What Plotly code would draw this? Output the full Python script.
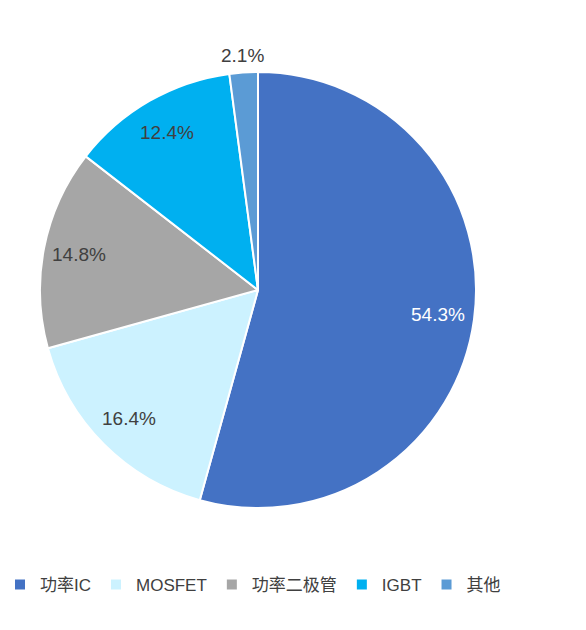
import math
import plotly.graph_objects as go

categories = ["功率IC", "MOSFET", "功率二极管", "IGBT", "其他"]
values = [54.3, 16.4, 14.8, 12.4, 2.1]
colors = ["#4472C4", "#CCF2FF", "#A6A6A6", "#00B0F0", "#5B9BD5"]
text_colors = ["#FFFFFF", "#404040", "#404040", "#404040", "#404040"]
label_radius = [0.835, 0.835, 0.835, 0.835, 1.078]

W, H = 586, 630
CX, CY, R = 258, 290, 218

fig = go.Figure(go.Pie(
    labels=categories,
    values=values,
    sort=False,
    direction="clockwise",
    rotation=0,
    marker=dict(colors=colors, line=dict(color="white", width=2)),
    textinfo="none",
    hoverinfo="label+percent",
    domain=dict(x=[(CX - R) / W, (CX + R) / W], y=[1 - (CY + R) / H, 1 - (CY - R) / H]),
))

total = sum(values)
cum = 0.0
for v, tc, lr in zip(values, text_colors, label_radius):
    theta = math.radians(360 * (cum + v / 2) / total)
    cum += v
    px = CX + lr * R * math.sin(theta)
    py = CY - lr * R * math.cos(theta)
    fig.add_annotation(
        x=px / W, y=1 - py / H, xref="paper", yref="paper",
        xanchor="center", yanchor="middle",
        text=f"{v:.1f}%", showarrow=False,
        font=dict(family="Liberation Sans, Arial", size=19, color=tc),
    )

fig.update_layout(
    width=W, height=H,
    margin=dict(l=0, r=0, t=0, b=0),
    paper_bgcolor="white",
    showlegend=True,
    legend=dict(
        orientation="h", x=0.0, y=1 - 585 / H, xanchor="left", yanchor="middle",
        font=dict(family="Liberation Sans, Noto Sans CJK SC", size=17, color="#404040"),
        itemwidth=30, traceorder="normal",
    ),
)

fig.write_html("out.html", config={"displayModeBar": False},
               post_script="document.body.style.margin='0';")
